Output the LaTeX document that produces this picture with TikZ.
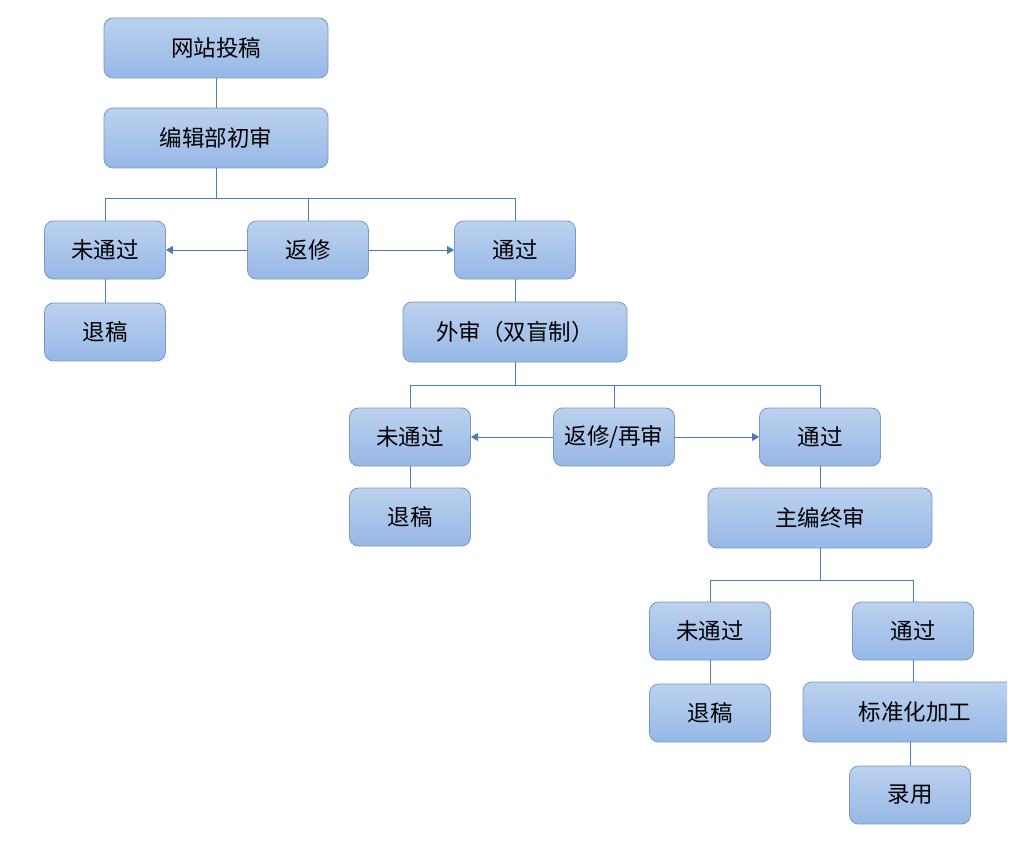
\documentclass[tikz,border=0pt]{standalone}
\usepackage{fontspec}
\newfontfamily\cjk{Noto Sans CJK SC}
\usetikzlibrary{shapes,positioning,arrows,calc}
\definecolor{boxtop}{RGB}{188,209,239}
\definecolor{boxbottom}{RGB}{150,184,230}
\definecolor{boxline}{RGB}{122,152,196}
\definecolor{linkblue}{RGB}{74,126,187}

\begin{document}
\begin{tikzpicture}[>= triangle 60,
  x=1pt, y=-1pt,
  every node/.style={font=\cjk\fontsize{22.5}{26}\selectfont},
  box/.style={draw=boxline, line width=0.8pt, rounded corners=9pt,
    top color=boxtop, bottom color=boxbottom,
    minimum width=121pt, minimum height=58pt, inner sep=0pt},
  wide/.style={box, minimum width=224pt, minimum height=60pt},
  link/.style={draw=linkblue, line width=0.9pt},
  ]
	\useasboundingbox (0,0) rectangle (1031,845) ;
	% first round
	\node [wide] (post) at (216,48) {网站投稿} ;
	\node [wide] (first) at (216,138) {编辑部初审} ;
	\node [box] (fail1) at (105,250) {未通过} ;
	\node [box] (rev1) at (308,250) {返修} ;
	\node [box] (pass1) at (515,250) {通过} ;
	\node [box] (back1) at (105,332) {退稿} ;
	% external review
	\node [wide] (peer) at (515,332) {外审（双盲制）} ;
	\node [box] (fail2) at (410,437) {未通过} ;
	\node [box] (rev2) at (614,437) {返修/再审} ;
	\node [box] (pass2) at (820,437) {通过} ;
	\node [box] (back2) at (410,517) {退稿} ;
	% final review
	\node [wide] (final) at (820,518) {主编终审} ;
	\node [box] (fail3) at (710,631) {未通过} ;
	\node [box] (pass3) at (913,631) {通过} ;
	\node [box] (back3) at (710,713) {退稿} ;
	\begin{scope}
		\clip (0,0) rectangle (1007,845) ;
		\node [wide] (edit) at (915,712) {标准化加工} ;
	\end{scope}
	\node [box] (accept) at (910,795) {录用} ;

	\draw [link] (post) -- (first) ;
	\draw [link] (first.south) -- ++(0,30) coordinate (bus1) ;
	\draw [link] (fail1.north) |- (pass1.north |- bus1) -- (pass1.north) ;
	\draw [link] (rev1.north) -- (rev1.north |- bus1) ;
	\draw [link,->] (rev1) -- (fail1) ;
	\draw [link,->] (rev1) -- (pass1) ;
	\draw [link] (fail1) -- (back1) ;
	\draw [link] (pass1) -- (peer) ;

	\draw [link] (peer.south) -- ++(0,23) coordinate (bus2) ;
	\draw [link] (fail2.north) |- (pass2.north |- bus2) -- (pass2.north) ;
	\draw [link] (rev2.north) -- (rev2.north |- bus2) ;
	\draw [link,->] (rev2) -- (fail2) ;
	\draw [link,->] (rev2) -- (pass2) ;
	\draw [link] (fail2) -- (back2) ;
	\draw [link] (pass2) -- (final) ;

	\draw [link] (final.south) -- ++(0,32) coordinate (bus3) ;
	\draw [link] (fail3.north) |- (pass3.north |- bus3) -- (pass3.north) ;
	\draw [link] (fail3) -- (back3) ;
	\draw [link] (pass3.south) -- (pass3.south |- edit.north) ;
	\draw [link] (edit.south -| accept.north) -- (accept.north) ;
\end{tikzpicture}
\end{document}
